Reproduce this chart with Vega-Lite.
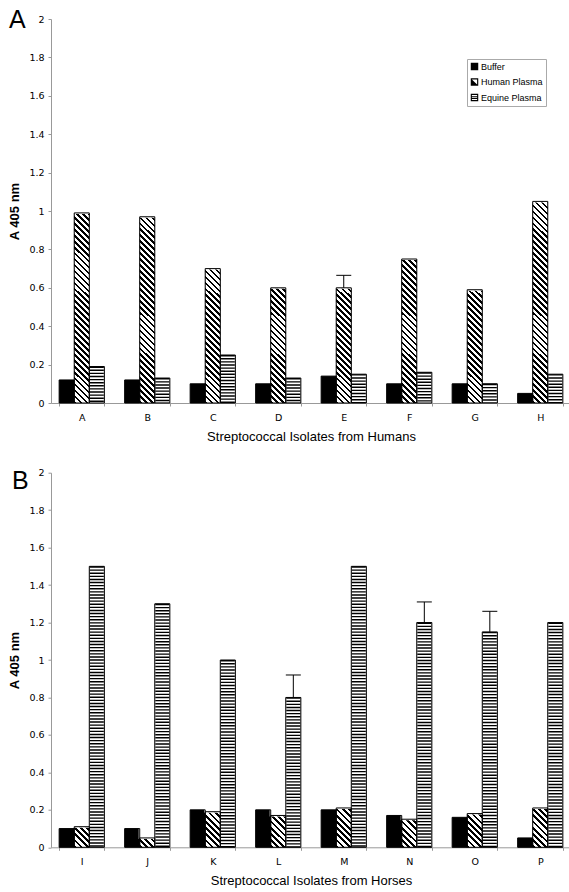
{
"$schema":"https://vega.github.io/schema/vega-lite/v6.json",
"background":"white",
"padding":{"left":8,"top":8,"right":0,"bottom":0},
"bounds":"flush",
"spacing":69.7,
"config":{
 "view":{"stroke":null},
 "axis":{"grid":false,"labelOverlap":false,"labelFont":"DejaVu Sans","labelFontSize":9.5,"labelColor":"#000","titleFont":"Liberation Sans","titleColor":"#000","domainColor":"#999","tickColor":"#999","tickSize":3},
 "axisX":{"labelAngle":0,"labelPadding":6,"titlePadding":9,"titleFontSize":13,"titleFontWeight":"normal","tickBand":"extent"},
 "axisY":{"labelPadding":4,"titlePadding":7,"titleFontSize":13,"titleFontWeight":"bold","labelOverlap":false},
 "legend":{"strokeColor":"#aaa","padding":3,"symbolSize":56,"symbolOpacity":1,"symbolFillColor":"#000","symbolStrokeWidth":0,"labelFont":"Liberation Sans","labelFontSize":9,"labelColor":"#000","rowPadding":5.5,"labelOffset":2},
 "title":{"font":"Liberation Sans","fontSize":25,"fontWeight":"normal","anchor":"start","frame":"group","offset":0,"baseline":"alphabetic","color":"#000"}
},
"datasets":{
 "humans":[
  {"isolate":"A","series":"Buffer","value":0.12},{"isolate":"A","series":"Human Plasma","value":0.99},{"isolate":"A","series":"Equine Plasma","value":0.19},
  {"isolate":"B","series":"Buffer","value":0.12},{"isolate":"B","series":"Human Plasma","value":0.97},{"isolate":"B","series":"Equine Plasma","value":0.13},
  {"isolate":"C","series":"Buffer","value":0.10},{"isolate":"C","series":"Human Plasma","value":0.70},{"isolate":"C","series":"Equine Plasma","value":0.25},
  {"isolate":"D","series":"Buffer","value":0.10},{"isolate":"D","series":"Human Plasma","value":0.60},{"isolate":"D","series":"Equine Plasma","value":0.13},
  {"isolate":"E","series":"Buffer","value":0.14},{"isolate":"E","series":"Human Plasma","value":0.60,"upper":0.665},{"isolate":"E","series":"Equine Plasma","value":0.15},
  {"isolate":"F","series":"Buffer","value":0.10},{"isolate":"F","series":"Human Plasma","value":0.75},{"isolate":"F","series":"Equine Plasma","value":0.16},
  {"isolate":"G","series":"Buffer","value":0.10},{"isolate":"G","series":"Human Plasma","value":0.59},{"isolate":"G","series":"Equine Plasma","value":0.10},
  {"isolate":"H","series":"Buffer","value":0.05},{"isolate":"H","series":"Human Plasma","value":1.05},{"isolate":"H","series":"Equine Plasma","value":0.15}
 ],
 "horses":[
  {"isolate":"I","series":"Buffer","value":0.10},{"isolate":"I","series":"Human Plasma","value":0.11},{"isolate":"I","series":"Equine Plasma","value":1.50},
  {"isolate":"J","series":"Buffer","value":0.10},{"isolate":"J","series":"Human Plasma","value":0.05},{"isolate":"J","series":"Equine Plasma","value":1.30},
  {"isolate":"K","series":"Buffer","value":0.20},{"isolate":"K","series":"Human Plasma","value":0.19},{"isolate":"K","series":"Equine Plasma","value":1.00},
  {"isolate":"L","series":"Buffer","value":0.20},{"isolate":"L","series":"Human Plasma","value":0.17},{"isolate":"L","series":"Equine Plasma","value":0.80,"upper":0.92},
  {"isolate":"M","series":"Buffer","value":0.20},{"isolate":"M","series":"Human Plasma","value":0.21},{"isolate":"M","series":"Equine Plasma","value":1.50},
  {"isolate":"N","series":"Buffer","value":0.17},{"isolate":"N","series":"Human Plasma","value":0.15},{"isolate":"N","series":"Equine Plasma","value":1.20,"upper":1.31},
  {"isolate":"O","series":"Buffer","value":0.16},{"isolate":"O","series":"Human Plasma","value":0.18},{"isolate":"O","series":"Equine Plasma","value":1.15,"upper":1.26},
  {"isolate":"P","series":"Buffer","value":0.05},{"isolate":"P","series":"Human Plasma","value":0.21},{"isolate":"P","series":"Equine Plasma","value":1.20}
 ]
},
"vconcat":[
 {
  "width":520,"height":384,
  "title":{"text":"A","dx":-42,"dy":23},
  "data":{"name":"humans"},
  "encoding":{
   "x":{"field":"isolate","type":"nominal","scale":{"type":"band","paddingInner":0.31,"paddingOuter":0.1245},"axis":{"title":"Streptococcal Isolates from Humans"}},
   "xOffset":{"field":"series","type":"nominal","scale":{"domain":["Buffer","Human Plasma","Equine Plasma"],"paddingInner":0,"paddingOuter":0}},
   "y":{"field":"value","type":"quantitative","scale":{"domain":[0,2]},"axis":{"title":"A 405 nm","tickCount":10,"labelExpr":"format(datum.value, '~g')","labelOverlap":false,"labelSeparation":-20,"labelBound":false}}
  },
  "layer":[
   {"mark":{"type":"bar","fill":"#000","strokeWidth":0}},
   {"transform":[{"filter":"datum.series === 'Human Plasma'"}],
    "mark":{"type":"bar","fill":{"gradient":"linear","x1":0,"y1":1,"x2":0.0757,"y2":-0.0656,"stops":[
{"offset":0,"color":"#000"},{"offset":0.0118,"color":"#000"},{"offset":0.0118,"color":"#fff"},{"offset":0.0263,"color":"#fff"},
{"offset":0.0263,"color":"#000"},{"offset":0.0382,"color":"#000"},{"offset":0.0382,"color":"#fff"},{"offset":0.0526,"color":"#fff"},
{"offset":0.0526,"color":"#000"},{"offset":0.0645,"color":"#000"},{"offset":0.0645,"color":"#fff"},{"offset":0.0789,"color":"#fff"},
{"offset":0.0789,"color":"#000"},{"offset":0.0908,"color":"#000"},{"offset":0.0908,"color":"#fff"},{"offset":0.1053,"color":"#fff"},
{"offset":0.1053,"color":"#000"},{"offset":0.1171,"color":"#000"},{"offset":0.1171,"color":"#fff"},{"offset":0.1316,"color":"#fff"},
{"offset":0.1316,"color":"#000"},{"offset":0.1434,"color":"#000"},{"offset":0.1434,"color":"#fff"},{"offset":0.1579,"color":"#fff"},
{"offset":0.1579,"color":"#000"},{"offset":0.1697,"color":"#000"},{"offset":0.1697,"color":"#fff"},{"offset":0.1842,"color":"#fff"},
{"offset":0.1842,"color":"#000"},{"offset":0.1961,"color":"#000"},{"offset":0.1961,"color":"#fff"},{"offset":0.2105,"color":"#fff"},
{"offset":0.2105,"color":"#000"},{"offset":0.2224,"color":"#000"},{"offset":0.2224,"color":"#fff"},{"offset":0.2368,"color":"#fff"},
{"offset":0.2368,"color":"#000"},{"offset":0.2487,"color":"#000"},{"offset":0.2487,"color":"#fff"},{"offset":0.2632,"color":"#fff"},
{"offset":0.2632,"color":"#000"},{"offset":0.2750,"color":"#000"},{"offset":0.2750,"color":"#fff"},{"offset":0.2895,"color":"#fff"},
{"offset":0.2895,"color":"#000"},{"offset":0.3013,"color":"#000"},{"offset":0.3013,"color":"#fff"},{"offset":0.3158,"color":"#fff"},
{"offset":0.3158,"color":"#000"},{"offset":0.3276,"color":"#000"},{"offset":0.3276,"color":"#fff"},{"offset":0.3421,"color":"#fff"},
{"offset":0.3421,"color":"#000"},{"offset":0.3539,"color":"#000"},{"offset":0.3539,"color":"#fff"},{"offset":0.3684,"color":"#fff"},
{"offset":0.3684,"color":"#000"},{"offset":0.3803,"color":"#000"},{"offset":0.3803,"color":"#fff"},{"offset":0.3947,"color":"#fff"},
{"offset":0.3947,"color":"#000"},{"offset":0.4066,"color":"#000"},{"offset":0.4066,"color":"#fff"},{"offset":0.4211,"color":"#fff"},
{"offset":0.4211,"color":"#000"},{"offset":0.4329,"color":"#000"},{"offset":0.4329,"color":"#fff"},{"offset":0.4474,"color":"#fff"},
{"offset":0.4474,"color":"#000"},{"offset":0.4592,"color":"#000"},{"offset":0.4592,"color":"#fff"},{"offset":0.4737,"color":"#fff"},
{"offset":0.4737,"color":"#000"},{"offset":0.4855,"color":"#000"},{"offset":0.4855,"color":"#fff"},{"offset":0.5000,"color":"#fff"},
{"offset":0.5000,"color":"#000"},{"offset":0.5118,"color":"#000"},{"offset":0.5118,"color":"#fff"},{"offset":0.5263,"color":"#fff"},
{"offset":0.5263,"color":"#000"},{"offset":0.5382,"color":"#000"},{"offset":0.5382,"color":"#fff"},{"offset":0.5526,"color":"#fff"},
{"offset":0.5526,"color":"#000"},{"offset":0.5645,"color":"#000"},{"offset":0.5645,"color":"#fff"},{"offset":0.5789,"color":"#fff"},
{"offset":0.5789,"color":"#000"},{"offset":0.5908,"color":"#000"},{"offset":0.5908,"color":"#fff"},{"offset":0.6053,"color":"#fff"},
{"offset":0.6053,"color":"#000"},{"offset":0.6171,"color":"#000"},{"offset":0.6171,"color":"#fff"},{"offset":0.6316,"color":"#fff"},
{"offset":0.6316,"color":"#000"},{"offset":0.6434,"color":"#000"},{"offset":0.6434,"color":"#fff"},{"offset":0.6579,"color":"#fff"},
{"offset":0.6579,"color":"#000"},{"offset":0.6697,"color":"#000"},{"offset":0.6697,"color":"#fff"},{"offset":0.6842,"color":"#fff"},
{"offset":0.6842,"color":"#000"},{"offset":0.6961,"color":"#000"},{"offset":0.6961,"color":"#fff"},{"offset":0.7105,"color":"#fff"},
{"offset":0.7105,"color":"#000"},{"offset":0.7224,"color":"#000"},{"offset":0.7224,"color":"#fff"},{"offset":0.7368,"color":"#fff"},
{"offset":0.7368,"color":"#000"},{"offset":0.7487,"color":"#000"},{"offset":0.7487,"color":"#fff"},{"offset":0.7632,"color":"#fff"},
{"offset":0.7632,"color":"#000"},{"offset":0.7750,"color":"#000"},{"offset":0.7750,"color":"#fff"},{"offset":0.7895,"color":"#fff"},
{"offset":0.7895,"color":"#000"},{"offset":0.8013,"color":"#000"},{"offset":0.8013,"color":"#fff"},{"offset":0.8158,"color":"#fff"},
{"offset":0.8158,"color":"#000"},{"offset":0.8276,"color":"#000"},{"offset":0.8276,"color":"#fff"},{"offset":0.8421,"color":"#fff"},
{"offset":0.8421,"color":"#000"},{"offset":0.8539,"color":"#000"},{"offset":0.8539,"color":"#fff"},{"offset":0.8684,"color":"#fff"},
{"offset":0.8684,"color":"#000"},{"offset":0.8803,"color":"#000"},{"offset":0.8803,"color":"#fff"},{"offset":0.8947,"color":"#fff"},
{"offset":0.8947,"color":"#000"},{"offset":0.9066,"color":"#000"},{"offset":0.9066,"color":"#fff"},{"offset":0.9211,"color":"#fff"},
{"offset":0.9211,"color":"#000"},{"offset":0.9329,"color":"#000"},{"offset":0.9329,"color":"#fff"},{"offset":0.9474,"color":"#fff"},
{"offset":0.9474,"color":"#000"},{"offset":0.9592,"color":"#000"},{"offset":0.9592,"color":"#fff"},{"offset":0.9737,"color":"#fff"},
{"offset":0.9737,"color":"#000"},{"offset":0.9855,"color":"#000"},{"offset":0.9855,"color":"#fff"},{"offset":1,"color":"#fff"}
    ]}},
    "encoding":{"y":{"datum":1.1,"type":"quantitative"},"y2":{"datum":0}}},
   {"transform":[{"filter":"datum.series === 'Human Plasma'"}],
    "mark":{"type":"bar","fill":"#fff","stroke":"#fff","strokeWidth":2},
    "encoding":{"y2":{"datum":1.1}}},
   {"transform":[{"filter":"datum.series === 'Equine Plasma'"}],
    "mark":{"type":"bar","fill":"#fff"}},
   {"transform":[{"filter":"datum.series === 'Equine Plasma'"}],
    "mark":{"type":"rule","color":"#000","strokeWidth":14,"strokeDash":[1.4,1.7]},
    "encoding":{"y2":{"datum":0}}},
   {"mark":{"type":"bar","fillOpacity":0,"stroke":"#000","strokeWidth":1}},
   {"transform":[{"filter":"isValid(datum.upper)"}],
    "mark":{"type":"rule","color":"#000","strokeWidth":1},
    "encoding":{"y2":{"field":"upper"}}},
   {"transform":[{"filter":"isValid(datum.upper)"}],
    "mark":{"type":"tick","color":"#000","thickness":1,"size":15,"opacity":1,"orient":"horizontal"},
    "encoding":{"y":{"field":"upper","type":"quantitative"}}},
   {"mark":{"type":"point","filled":true,"fill":"#000","opacity":0,"size":56},
    "encoding":{
     "shape":{"field":"series","type":"nominal","scale":{"domain":["Buffer","Human Plasma","Equine Plasma"],"range":["square","M-1,-1L1,-1L1,1L-1,1ZM-0.7,-0.7L-0.7,0.7L0.7,0.7L0.7,-0.7ZM-0.7,-0.7L0.7,0.7L-0.7,0.7Z","M-1,-1L1,-1L1,1L-1,1ZM-0.7,-0.7L-0.7,0.7L0.7,0.7L0.7,-0.7ZM-0.7,-0.35L0.7,-0.35L0.7,-0.1L-0.7,-0.1ZM0.7,0.15L0.7,0.4L-0.7,0.4L-0.7,0.15Z"]},
      "legend":{"title":null,"orient":"none","legendX":416,"legendY":40}}}}
  ]
 },
 {
  "width":520,"height":374.6,
  "title":{"text":"B","dx":-39,"dy":30},
  "data":{"name":"horses"},
  "encoding":{
   "x":{"field":"isolate","type":"nominal","scale":{"type":"band","paddingInner":0.31,"paddingOuter":0.1245},"axis":{"title":"Streptococcal Isolates from Horses"}},
   "xOffset":{"field":"series","type":"nominal","scale":{"domain":["Buffer","Human Plasma","Equine Plasma"],"paddingInner":0,"paddingOuter":0}},
   "y":{"field":"value","type":"quantitative","scale":{"domain":[0,2]},"axis":{"title":"A 405 nm","tickCount":10,"labelExpr":"format(datum.value, '~g')","labelOverlap":false,"labelSeparation":-20,"labelBound":false}}
  },
  "layer":[
   {"mark":{"type":"bar","fill":"#000","strokeWidth":0}},
   {"transform":[{"filter":"datum.series === 'Human Plasma'"}],
    "mark":{"type":"bar","fill":{"gradient":"linear","x1":0,"y1":1,"x2":0.3838,"y2":-0.1975,"stops":[
{"offset":0,"color":"#000"},{"offset":0.045,"color":"#000"},{"offset":0.045,"color":"#fff"},{"offset":0.1,"color":"#fff"},
{"offset":0.1,"color":"#000"},{"offset":0.145,"color":"#000"},{"offset":0.145,"color":"#fff"},{"offset":0.2,"color":"#fff"},
{"offset":0.2,"color":"#000"},{"offset":0.245,"color":"#000"},{"offset":0.245,"color":"#fff"},{"offset":0.3,"color":"#fff"},
{"offset":0.3,"color":"#000"},{"offset":0.345,"color":"#000"},{"offset":0.345,"color":"#fff"},{"offset":0.4,"color":"#fff"},
{"offset":0.4,"color":"#000"},{"offset":0.445,"color":"#000"},{"offset":0.445,"color":"#fff"},{"offset":0.5,"color":"#fff"},
{"offset":0.5,"color":"#000"},{"offset":0.545,"color":"#000"},{"offset":0.545,"color":"#fff"},{"offset":0.6,"color":"#fff"},
{"offset":0.6,"color":"#000"},{"offset":0.645,"color":"#000"},{"offset":0.645,"color":"#fff"},{"offset":0.7,"color":"#fff"},
{"offset":0.7,"color":"#000"},{"offset":0.745,"color":"#000"},{"offset":0.745,"color":"#fff"},{"offset":0.8,"color":"#fff"},
{"offset":0.8,"color":"#000"},{"offset":0.845,"color":"#000"},{"offset":0.845,"color":"#fff"},{"offset":0.9,"color":"#fff"},
{"offset":0.9,"color":"#000"},{"offset":0.945,"color":"#000"},{"offset":0.945,"color":"#fff"},{"offset":1,"color":"#fff"}
    ]}},
    "encoding":{"y":{"datum":0.25,"type":"quantitative"},"y2":{"datum":0}}},
   {"transform":[{"filter":"datum.series === 'Human Plasma'"}],
    "mark":{"type":"bar","fill":"#fff","stroke":"#fff","strokeWidth":2},
    "encoding":{"y2":{"datum":0.25}}},
   {"transform":[{"filter":"datum.series === 'Equine Plasma'"}],
    "mark":{"type":"bar","fill":"#fff"}},
   {"transform":[{"filter":"datum.series === 'Equine Plasma'"}],
    "mark":{"type":"rule","color":"#000","strokeWidth":14,"strokeDash":[1.4,1.7]},
    "encoding":{"y2":{"datum":0}}},
   {"mark":{"type":"bar","fillOpacity":0,"stroke":"#000","strokeWidth":1}},
   {"transform":[{"filter":"isValid(datum.upper)"}],
    "mark":{"type":"rule","color":"#000","strokeWidth":1},
    "encoding":{"y2":{"field":"upper"}}},
   {"transform":[{"filter":"isValid(datum.upper)"}],
    "mark":{"type":"tick","color":"#000","thickness":1,"size":15,"opacity":1,"orient":"horizontal"},
    "encoding":{"y":{"field":"upper","type":"quantitative"}}},
   {"mark":{"type":"point","filled":true,"fill":"#000","opacity":0,"size":56},
    "encoding":{
     "shape":{"field":"series","type":"nominal","scale":{"domain":["Buffer","Human Plasma","Equine Plasma"],"range":["square","M-1,-1L1,-1L1,1L-1,1ZM-0.7,-0.7L-0.7,0.7L0.7,0.7L0.7,-0.7ZM-0.7,-0.7L0.7,0.7L-0.7,0.7Z","M-1,-1L1,-1L1,1L-1,1ZM-0.7,-0.7L-0.7,0.7L0.7,0.7L0.7,-0.7ZM-0.7,-0.35L0.7,-0.35L0.7,-0.1L-0.7,-0.1ZM0.7,0.15L0.7,0.4L-0.7,0.4L-0.7,0.15Z"]},
      "legend":{"title":null,"orient":"none","legendX":409,"legendY":44}}}}
  ]
 }
]
}
